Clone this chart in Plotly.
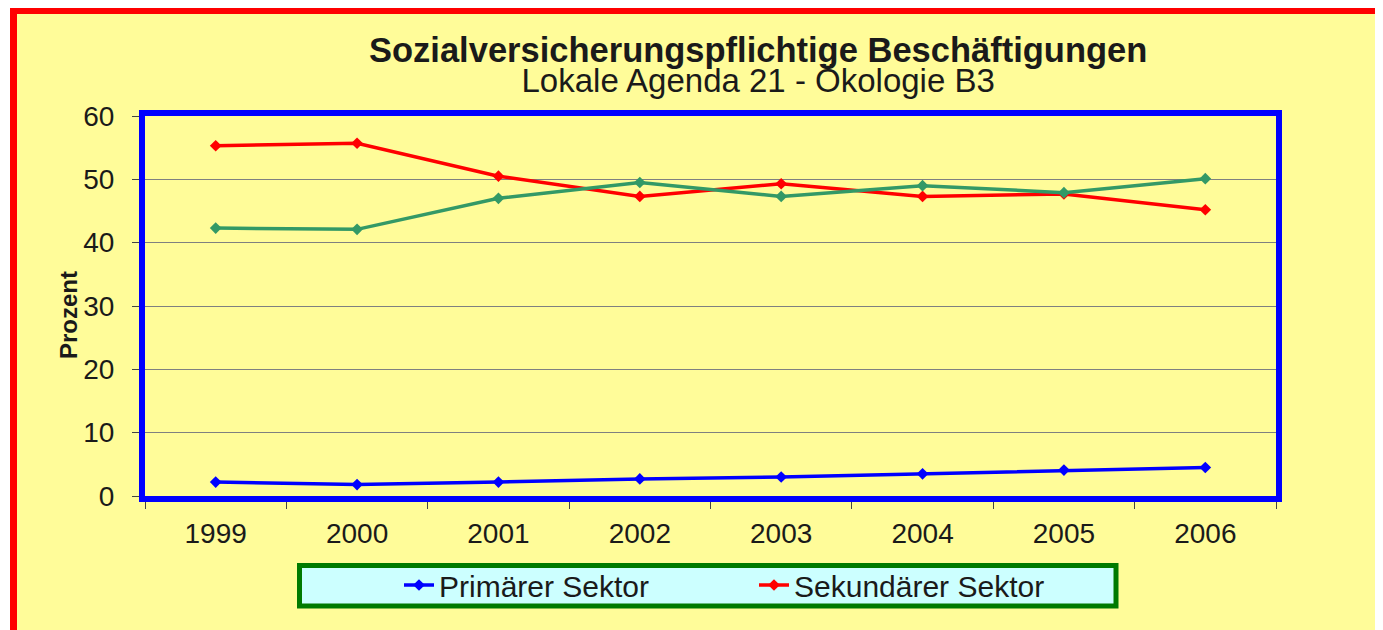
import plotly.graph_objects as go

years = ["1999", "2000", "2001", "2002", "2003", "2004", "2005", "2006"]
primaer = [2.2, 1.8, 2.2, 2.7, 3.0, 3.5, 4.1, 4.5]
sekundaer = [55.3, 55.7, 50.5, 47.3, 49.3, 47.3, 47.7, 45.2]
tertiaer = [42.3, 42.1, 47.0, 49.5, 47.3, 49.0, 47.9, 50.1]
y_ticks = [0, 10, 20, 30, 40, 50, 60]

title = "Sozialversicherungspflichtige Beschäftigungen"
subtitle = "Lokale Agenda 21 - Ökologie B3"
y_title = "Prozent"

# page offset of the default HTML body margin
OFF = 8
W, H = 1383, 630
# plot-area edges in screen pixels
L, R, T, B = 145, 1276, 116, 496
pw, ph = R - L, B - T

def px_x(x):
    return (x - L) / pw

def px_y(y):
    return (B - y) / ph

FONT = "Arial, Liberation Sans, sans-serif"
TXT = "#1a1a1a"

fig = go.Figure()
fig.add_trace(go.Scatter(x=years, y=primaer, name="Primärer Sektor", mode="lines+markers",
                         line=dict(color="#0000FF", width=3.5),
                         marker=dict(symbol="diamond", size=9, color="#0000FF")))
fig.add_trace(go.Scatter(x=years, y=sekundaer, name="Sekundärer Sektor", mode="lines+markers",
                         line=dict(color="#FF0000", width=3.5),
                         marker=dict(symbol="diamond", size=9, color="#FF0000")))
fig.add_trace(go.Scatter(x=years, y=tertiaer, name="Tertiärer Sektor", mode="lines+markers",
                         line=dict(color="#339966", width=3.5),
                         marker=dict(symbol="diamond", size=9, color="#339966"),
                         showlegend=False))

fig.update_layout(
    width=W, height=H,
    margin=dict(l=L - OFF, r=W - (R - OFF), t=T - OFF, b=H - (B - OFF), pad=0),
    paper_bgcolor="#FFFFFF",
    plot_bgcolor="#CCFFFF",
    font=dict(family=FONT, size=28, color=TXT),
    showlegend=True,
    legend=dict(orientation="h", x=px_x(399), xanchor="left", y=px_y(585), yanchor="middle",
                bgcolor="rgba(0,0,0,0)", borderwidth=0, entrywidth=310,
                font=dict(family=FONT, size=30, color=TXT), itemwidth=30),
    xaxis=dict(type="category", range=[-0.5, 7.5], showgrid=False,
               showline=True, linecolor="#0000FF", linewidth=6, mirror=True,
               ticks="outside", ticklen=7, tickcolor="#444444", tickwidth=1,
               tickson="boundaries", ticklabelstandoff=7,
               tickfont=dict(family=FONT, size=28, color=TXT)),
    yaxis=dict(range=[0, 60], tickvals=y_ticks, showgrid=True, gridcolor="#7f8080", gridwidth=1.2,
               showline=True, linecolor="#0000FF", linewidth=6, mirror=True,
               ticks="outside", ticklen=7, tickcolor="#444444", tickwidth=1,
               ticklabelstandoff=12, zeroline=False,
               tickfont=dict(family=FONT, size=28, color=TXT)),
    shapes=[
        dict(type="rect", xref="paper", yref="paper", layer="below",
             x0=px_x(13.5), x1=px_x(1379.5), y0=px_y(650), y1=px_y(10.5),
             line=dict(color="#FF0000", width=7), fillcolor="#FFFC99"),
        dict(type="rect", xref="paper", yref="paper", layer="below",
             x0=px_x(299.5), x1=px_x(1116), y0=px_y(606), y1=px_y(565.5),
             line=dict(color="#007A00", width=5), fillcolor="#CCFFFF"),
    ],
    annotations=[
        dict(text=("<span style='font-size:34.5px'><b>" + title + "</b></span><br>"
                   "<span style='font-size:33px'>" + subtitle + "</span>"),
             xref="paper", yref="paper",
             x=px_x(758), y=px_y(65), xanchor="center", yanchor="middle", showarrow=False,
             font=dict(family=FONT, size=23, color=TXT)),
        dict(text="<b>" + y_title + "</b>", xref="paper", yref="paper", textangle=-90,
             x=px_x(68), y=px_y(315), xanchor="center", yanchor="middle", showarrow=False,
             font=dict(family="Liberation Sans Narrow, Arial Narrow, " + FONT, size=24, color=TXT)),
    ],
)

fig.write_html("out.html")
